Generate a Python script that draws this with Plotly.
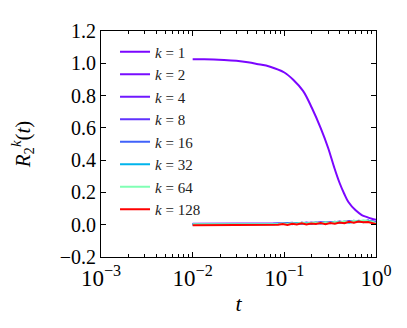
import plotly.graph_objects as go

# ---- data ----
t_main = [0.01, 0.013, 0.017, 0.022, 0.03, 0.04, 0.05, 0.07, 0.1, 0.125, 0.16,
          0.2, 0.25, 0.3, 0.35, 0.4, 0.45, 0.5, 0.6, 0.7, 0.8, 0.9, 1.0]
r_k1 = [1.025, 1.025, 1.024, 1.021, 1.015, 1.006, 0.996, 0.979, 0.943, 0.898, 0.829,
        0.723, 0.597, 0.477, 0.355, 0.260, 0.192, 0.141, 0.089, 0.060, 0.047, 0.037, 0.03]

t_noise = [0.0100, 0.0113, 0.0127, 0.0143, 0.0161, 0.0181, 0.0204, 0.0230, 0.0259, 0.0292,
           0.0329, 0.0370, 0.0417, 0.0470, 0.0529, 0.0596, 0.0672, 0.0757, 0.0853, 0.0961,
           0.108, 0.122, 0.137, 0.155, 0.174, 0.196, 0.221, 0.249, 0.281, 0.316,
           0.356, 0.401, 0.452, 0.509, 0.574, 0.646, 0.728, 0.820, 0.924, 1.0]

r_k2 = [0.006, 0.006, 0.006, 0.006, 0.006, 0.006, 0.005, 0.005, 0.005, 0.005,
        0.005, 0.005, 0.005, 0.006, 0.006, 0.006, 0.005, 0.006, 0.007, 0.008,
        0.006, 0.010, 0.007, 0.012, 0.008, 0.011, 0.009, 0.013, 0.010, 0.015,
        0.012, 0.018, 0.016, 0.021, 0.019, 0.024, 0.022, 0.025, 0.020, 0.015]
r_k4 = [0.004, 0.004, 0.004, 0.004, 0.004, 0.004, 0.004, 0.004, 0.004, 0.005,
        0.005, 0.005, 0.005, 0.005, 0.004, 0.005, 0.006, 0.005, 0.004, 0.007,
        0.010, 0.006, 0.011, 0.008, 0.013, 0.009, 0.012, 0.008, 0.014, 0.011,
        0.017, 0.013, 0.019, 0.015, 0.022, 0.020, 0.023, 0.018, 0.021, 0.012]
r_k8 = [0.003, 0.003, 0.003, 0.003, 0.003, 0.003, 0.003, 0.003, 0.003, 0.003,
        0.004, 0.004, 0.004, 0.004, 0.005, 0.004, 0.005, 0.006, 0.008, 0.005,
        0.009, 0.012, 0.006, 0.010, 0.007, 0.013, 0.010, 0.015, 0.009, 0.013,
        0.018, 0.012, 0.017, 0.021, 0.016, 0.023, 0.019, 0.024, 0.017, 0.013]
r_k16 = [0.002, 0.002, 0.002, 0.002, 0.002, 0.002, 0.002, 0.002, 0.002, 0.003,
         0.003, 0.003, 0.003, 0.003, 0.004, 0.005, 0.003, 0.006, 0.004, 0.009,
         0.006, 0.011, 0.005, 0.012, 0.009, 0.007, 0.014, 0.010, 0.016, 0.011,
         0.015, 0.020, 0.014, 0.018, 0.024, 0.017, 0.022, 0.026, 0.016, 0.010]
r_k32 = [0.001, 0.001, 0.001, 0.001, 0.001, 0.001, 0.001, 0.001, 0.001, 0.001,
         0.002, 0.002, 0.002, 0.002, 0.003, 0.002, 0.004, 0.003, 0.006, 0.004,
         0.008, 0.003, 0.010, 0.006, 0.011, 0.004, 0.012, 0.008, 0.014, 0.009,
         0.016, 0.012, 0.020, 0.013, 0.018, 0.023, 0.015, 0.021, 0.018, 0.008]
r_k64 = [0.003, 0.003, 0.003, 0.003, 0.003, 0.003, 0.003, 0.002, 0.002, 0.002,
         0.002, 0.003, 0.003, 0.003, 0.002, 0.004, 0.003, 0.005, 0.003, 0.007,
         0.004, 0.009, 0.006, 0.012, 0.007, 0.010, 0.013, 0.008, 0.015, 0.011,
         0.017, 0.014, 0.021, 0.016, 0.025, 0.019, 0.027, 0.022, 0.019, 0.009]
r_k128 = [-0.003, -0.003, -0.003, -0.003, -0.003, -0.003, -0.003, -0.003, -0.002, -0.002,
          -0.002, -0.002, -0.001, -0.001, -0.002, 0.000, -0.001, 0.001, 0.000, 0.004,
          -0.001, 0.006, 0.001, 0.009, 0.002, 0.007, 0.004, 0.010, 0.003, 0.011,
          0.006, 0.014, 0.009, 0.018, 0.012, 0.020, 0.015, 0.017, 0.011, 0.004]

k_values = [1, 2, 4, 8, 16, 32, 64, 128]
colors = ["rgb(123,6,255)", "rgb(120,13,255)", "rgb(112,25,255)", "rgb(96,50,254)",
          "rgb(64,98,250)", "rgb(0,180,236)", "rgb(128,255,180)", "rgb(255,0,0)"]

x_tickvals = [0.001, 0.01, 0.1, 1]
x_ticktext = ["10<sup>\u22123</sup>", "10<sup>\u22122</sup>", "10<sup>\u22121</sup>", "10<sup>0</sup>"]
x_minor_vals = [m * d for d in (0.001, 0.01, 0.1) for m in range(2, 10)]

series = [(t_main, r_k1), (t_noise, r_k2), (t_noise, r_k4), (t_noise, r_k8),
          (t_noise, r_k16), (t_noise, r_k32), (t_noise, r_k64), (t_noise, r_k128)]

FONT = "Liberation Serif"

fig = go.Figure()
for k, c, (tx, ry) in zip(k_values, colors, series):
    fig.add_trace(go.Scatter(
        x=tx, y=ry, mode="lines", name=f"<i>k</i> = {k}",
        line=dict(color=c, width=2, shape="spline" if k == 1 else "linear"),
    ))

axis_common = dict(
    showline=True, linecolor="black", linewidth=1, mirror="allticks",
    ticks="inside", tickcolor="black", ticklen=5, tickwidth=1,
    showgrid=False, zeroline=False,
)

fig.update_xaxes(
    type="log", range=[-3, 0], tickmode="array", tickvals=x_tickvals, ticktext=x_ticktext,
    tickfont=dict(family=FONT, size=23, color="black"),
    minor=dict(tickmode="array", tickvals=x_minor_vals, ticks="inside", ticklen=3,
               tickcolor="black", showgrid=False),
    title=dict(text="<i>t</i>", font=dict(family=FONT, size=22, color="black"), standoff=6),
    **axis_common,
)
fig.update_yaxes(
    range=[-0.2, 1.2], dtick=0.2, tickformat=".1f",
    tickfont=dict(family=FONT, size=20, color="black"),
    title=dict(text="<i>R</i><sub>2</sub><sup><i>k</i></sup>(<i>t</i>)",
               font=dict(family=FONT, size=21, color="black"), standoff=24),
    **axis_common,
)

fig.update_layout(
    width=407, height=328,
    margin=dict(l=93, r=39, t=17, b=79),
    paper_bgcolor="white", plot_bgcolor="white",
    showlegend=True,
    legend=dict(
        x=0.051, y=0.98, xanchor="left", yanchor="top",
        bgcolor="rgba(0,0,0,0)", borderwidth=0,
        font=dict(family=FONT, size=15, color="#222"),
    ),
)

fig.write_html("out.html")
